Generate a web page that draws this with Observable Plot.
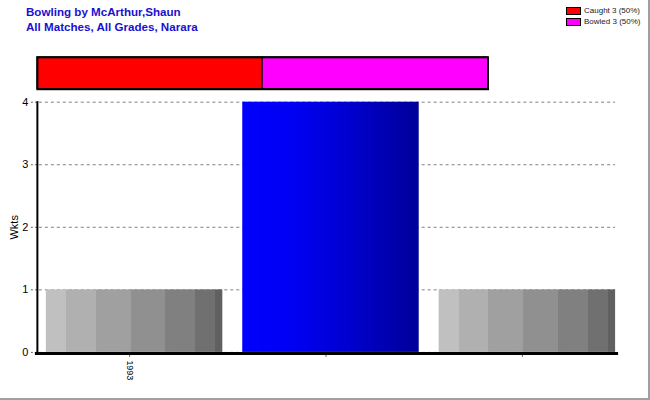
<!DOCTYPE html>
<html>
<head>
<meta charset="utf-8">
<script src="https://cdn.jsdelivr.net/npm/d3@7"></script>
<script src="https://cdn.jsdelivr.net/npm/@observablehq/plot@0.6"></script>
<style>
  body { margin: 0; background: #fff; }
  #wrap { position: relative; width: 650px; height: 400px; box-sizing: border-box;
          border-right: 2px solid #a0a0a0; border-bottom: 2px solid #a0a0a0; background: #fff;
          font-family: Arial, "Liberation Sans", sans-serif; overflow: hidden; }
  #wrap svg { position: absolute; left: 0; top: 0; }
  .title { position: absolute; left: 26px; color: #1a10d0; font-weight: bold; font-size: 11.6px; white-space: nowrap; }
  #legend { position: absolute; left: 566px; top: 5px; font-size: 8px; color: #222; }
  #legend .row { display: flex; align-items: center; height: 11px; }
  #legend .sw { width: 13px; height: 6px; border: 1px solid #000; margin-right: 3px; }
</style>
</head>
<body>
<div id="wrap">
  <div class="title" style="top:5px">Bowling by McArthur,Shaun</div>
  <div class="title" style="top:20px">All Matches, All Grades, Narara</div>
  <div id="legend"></div>
</div>
<script>
// ---- data ----
const seasons = ["1993", "1994", "1995"];
const tickLabels = ["1993", "", ""];
const wickets = [1, 4, 1];
const barPaints = ["url(#grayGrad)", "url(#blueGrad)", "url(#grayGrad)"];
const yTicks = [0, 1, 2, 3, 4];

const dismissalTypes = ["Caught", "Bowled"];
const dismissalCounts = [3, 3];
const dismissalColors = ["#ff0000", "#ff00ff"];

const rows = seasons.map((s, i) => ({season: s, wkts: wickets[i], paint: barPaints[i]}));
const dismissals = dismissalTypes.map((t, i) => ({type: t, count: dismissalCounts[i]}));
const total = d3.sum(dismissalCounts);

// ---- main chart ----
const main = Plot.plot({
  width: 650, height: 400,
  marginTop: 102, marginBottom: 47, marginLeft: 37, marginRight: 23,
  style: {fontFamily: "Arial, 'Liberation Sans', sans-serif", fontSize: "11px", background: "transparent", color: "#000"},
  x: {domain: seasons, paddingInner: 0.1, paddingOuter: 0.04, label: null},
  y: {domain: [0, 4], label: "Wkts"},
  color: {type: "identity"},
  marks: [
    Plot.ruleY(yTicks, {stroke: "#808080", strokeDasharray: "3,3", insetLeft: 2, insetRight: 10}),
    Plot.barY(rows, {x: "season", y: "wkts", fill: "paint"}),
    Plot.axisY({ticks: yTicks, tickFormat: d3.format("d"), tickSize: 6, tickPadding: 3,
                strokeDasharray: "2,2", stroke: "#666",
                label: "Wkts", labelAnchor: "center", labelOffset: 27, labelArrow: "none"}),
    Plot.axisX({tickSize: 5, tickPadding: 3, tickRotate: 90, dx: -5, stroke: "#666",
                tickFormat: (d, i) => tickLabels[seasons.indexOf(d)], label: null, fontSize: 9}),
    Plot.ruleY([0], {stroke: "#000", strokeWidth: 3, insetLeft: -2, insetRight: 7, dy: 1}),
    Plot.frame({anchor: "left", stroke: "#000", strokeWidth: 2})
  ]
});

// gradients
const defs = d3.select(main).insert("defs", ":first-child");
const gg = defs.append("linearGradient").attr("id", "grayGrad").attr("x1", 0).attr("x2", 1).attr("y1", 0).attr("y2", 0);
const grayStops = [[0, "#c0c0c0"], [0.113, "#b0b0b0"], [0.282, "#a0a0a0"], [0.48, "#909090"], [0.678, "#808080"], [0.847, "#707070"], [0.96, "#606060"]];
grayStops.forEach((s, i) => {
  const end = i + 1 < grayStops.length ? grayStops[i + 1][0] : 1;
  gg.append("stop").attr("offset", s[0]).attr("stop-color", s[1]);
  gg.append("stop").attr("offset", end).attr("stop-color", s[1]);
});
const bg = defs.append("linearGradient").attr("id", "blueGrad").attr("x1", 0).attr("x2", 1).attr("y1", 0).attr("y2", 0);
bg.append("stop").attr("offset", 0).attr("stop-color", "#0000ff");
bg.append("stop").attr("offset", 0.3).attr("stop-color", "#0000f2");
bg.append("stop").attr("offset", 0.6).attr("stop-color", "#0000d0");
bg.append("stop").attr("offset", 1).attr("stop-color", "#00009a");

document.getElementById("wrap").appendChild(main);

// ---- top stacked strip ----
const strip = Plot.plot({
  width: 650, height: 95,
  marginTop: 57, marginBottom: 6, marginLeft: 37, marginRight: 161,
  style: {background: "transparent"},
  x: {domain: [0, total], axis: null},
  color: {domain: dismissalTypes, range: dismissalColors},
  marks: [
    Plot.barX(dismissals, Plot.stackX({x: "count", fill: "type", stroke: "#000", strokeWidth: 1})),
    Plot.frame({stroke: "#000", strokeWidth: 2})
  ]
});
document.getElementById("wrap").appendChild(strip);

// ---- legend ----
const legend = d3.select("#legend");
dismissals.forEach((d, i) => {
  const r = legend.append("div").attr("class", "row");
  r.append("div").attr("class", "sw").style("background", dismissalColors[i]);
  r.append("span").text(`${d.type} ${d.count} (${Math.round(d.count / total * 100)}%)`);
});
</script>
</body>
</html>
